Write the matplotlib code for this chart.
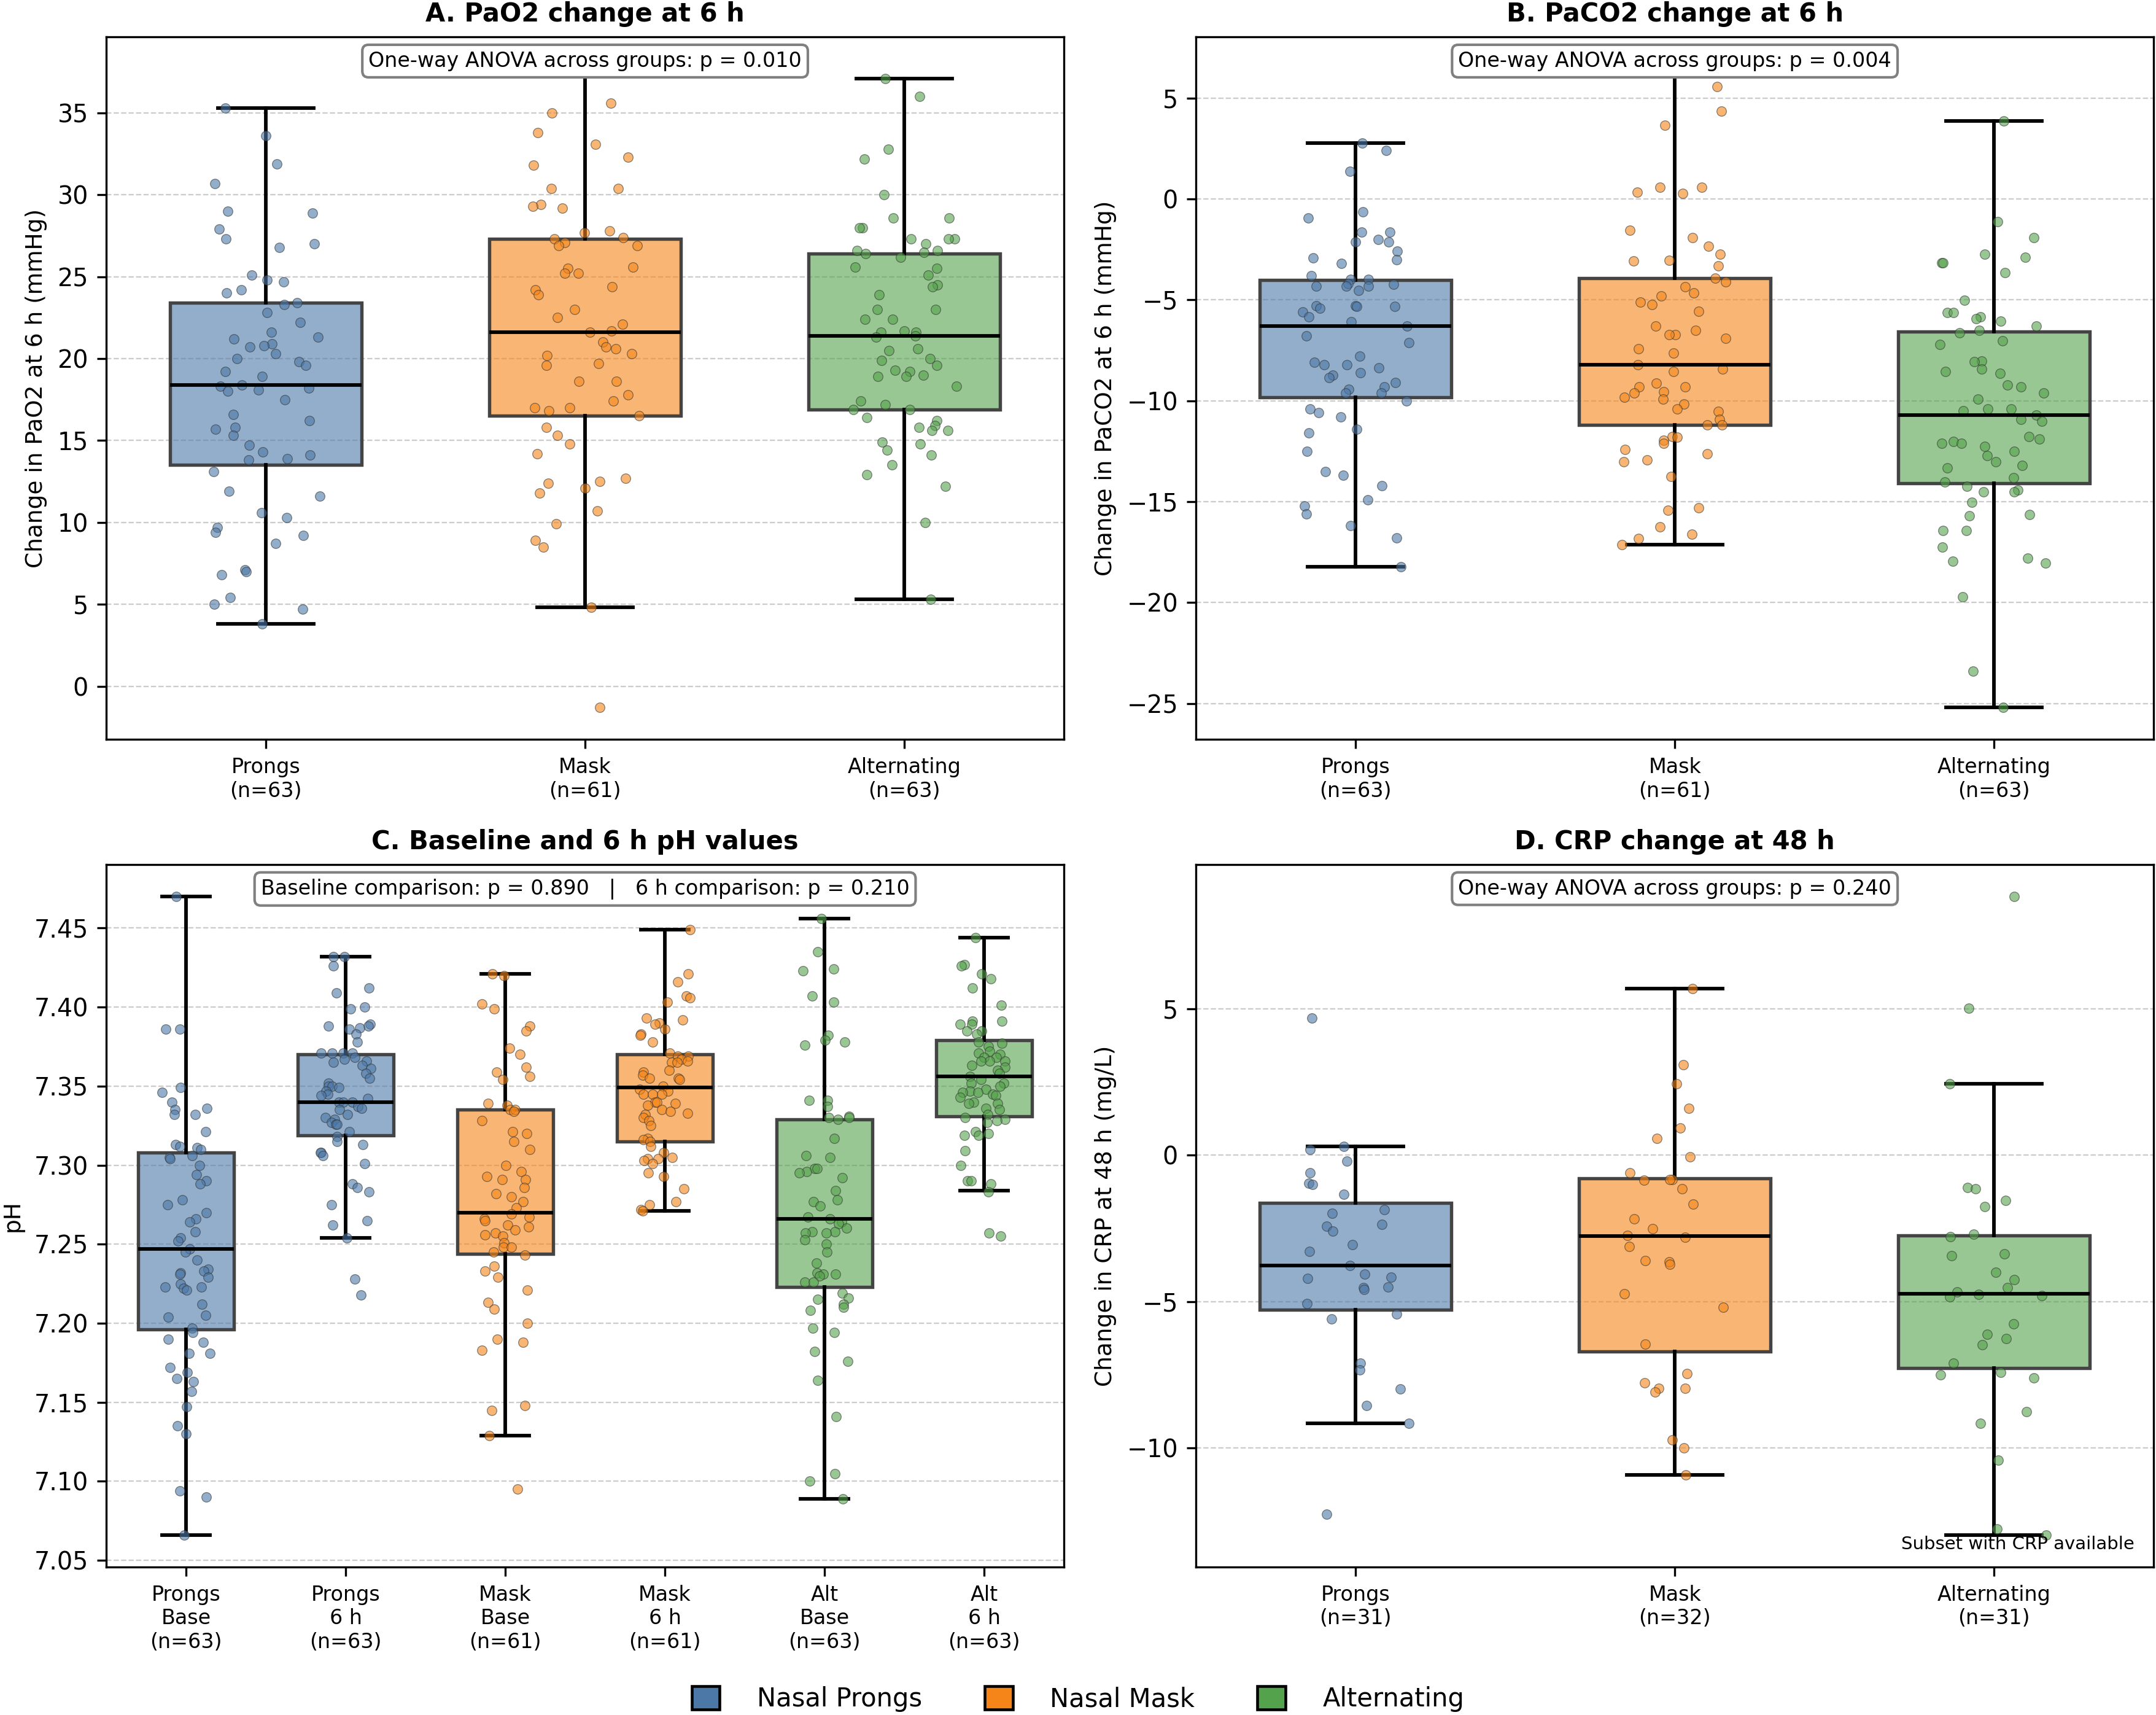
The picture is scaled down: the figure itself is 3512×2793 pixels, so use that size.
import matplotlib
matplotlib.use("Agg")
import matplotlib.pyplot as plt
import numpy as np
from matplotlib.colors import to_rgba
from matplotlib.patches import Patch

# colours per treatment group
c_prongs, c_mask, c_alt = "#4C78A8", "#F58518", "#54A24B"

# ---- A. PaO2 change at 6 h (mmHg)
pao2_prongs = [35.3, 33.6, 31.9, 30.7, 29.0, 28.9, 27.9, 27.3, 27.0, 26.8,
               25.1, 24.8, 24.7, 24.2, 24.0, 23.4, 23.3, 22.8, 22.2, 21.6,
               21.3, 21.2, 20.9, 20.8, 20.7, 20.3, 20.0, 19.8, 19.6, 19.2,
               18.9, 18.4, 18.3, 18.2, 18.1, 18.0, 17.5, 16.6, 16.2, 15.8,
               15.7, 15.3, 14.7, 14.3, 14.1, 13.9, 13.8, 13.1, 11.9, 11.6,
               10.6, 10.3, 9.7, 9.4, 9.2, 8.7, 7.1, 7.0, 6.8, 5.4,
               5.0, 4.7, 3.8]
pao2_mask = [37.7, 35.6, 35.0, 33.8, 33.1, 32.3, 31.8, 30.4, 30.4, 29.4,
             29.3, 29.2, 27.8, 27.7, 27.4, 27.3, 27.1, 26.9, 26.9, 25.6,
             25.5, 25.2, 25.2, 24.4, 24.2, 23.9, 23.0, 22.5, 22.1, 21.7,
             21.6, 21.0, 20.7, 20.6, 20.3, 20.2, 19.7, 19.6, 18.6, 18.6,
             17.8, 17.4, 17.0, 17.0, 16.8, 16.5, 15.8, 15.3, 14.8, 14.2,
             12.7, 12.5, 12.4, 12.1, 11.8, 10.7, 9.9, 8.9, 8.5, 4.8,
             -1.3]
pao2_alt = [37.1, 36.0, 32.8, 32.2, 30.0, 28.6, 28.6, 28.0, 28.0, 27.3,
            27.3, 27.3, 27.0, 26.6, 26.6, 26.5, 26.4, 26.2, 25.6, 25.5,
            25.1, 24.5, 24.4, 23.9, 23.0, 23.0, 22.4, 22.4, 21.7, 21.6,
            21.6, 21.4, 21.3, 20.6, 20.5, 20.0, 19.9, 19.6, 19.3, 19.2,
            19.0, 18.9, 18.9, 18.3, 17.4, 17.2, 16.9, 16.9, 16.4, 16.2,
            15.9, 15.8, 15.6, 15.6, 14.9, 14.8, 14.4, 14.1, 13.5, 12.9,
            12.2, 10.0, 5.3]
# whislo, q1, median, q3, whishi
pao2_stats = [(3.8, 13.5, 18.4, 23.4, 35.3),
              (4.8, 16.5, 21.6, 27.3, 37.7),
              (5.3, 16.9, 21.4, 26.4, 37.1)]

# ---- B. PaCO2 change at 6 h (mmHg)
paco2_prongs = [2.78, 2.4, 1.36, -0.63, -0.93, -1.64, -1.64, -2.02, -2.12, -2.12,
                -2.6, -2.93, -3.0, -3.2, -3.81, -4.0, -4.0, -4.19, -4.24, -4.32,
                -4.32, -4.32, -4.52, -5.3, -5.3, -5.33, -5.33, -5.43, -5.6, -5.83,
                -6.09, -6.31, -6.79, -7.12, -7.8, -8.1, -8.2, -8.2, -8.36, -8.6,
                -8.74, -8.84, -9.1, -9.3, -9.44, -9.6, -9.6, -10.0, -10.4, -10.6,
                -10.8, -11.4, -11.6, -12.5, -13.5, -13.7, -14.2, -14.9, -15.2, -15.6,
                -16.2, -16.8, -18.23]
paco2_mask = [6.45, 5.58, 4.34, 3.66, 0.58, 0.58, 0.35, 0.28, -1.54, -1.92,
              -2.35, -2.73, -3.03, -3.06, -3.33, -3.91, -4.12, -4.34, -4.65, -4.82,
              -5.1, -5.23, -5.56, -6.31, -6.52, -6.72, -6.72, -6.92, -7.42, -7.63,
              -8.21, -8.43, -8.54, -9.12, -9.32, -9.32, -9.55, -9.62, -9.82, -9.92,
              -10.15, -10.4, -10.53, -10.93, -11.21, -11.21, -11.77, -11.82, -11.97, -12.12,
              -12.4, -12.63, -12.93, -13.03, -13.74, -15.3, -15.43, -16.24, -16.62, -16.82,
              -17.12]
paco2_alt = [3.86, -1.14, -1.92, -2.73, -2.9, -3.16, -3.16, -3.64, -5.03, -5.63,
             -5.63, -5.83, -5.93, -6.04, -6.31, -6.52, -6.64, -7.02, -7.22, -8.03,
             -8.06, -8.43, -8.54, -8.64, -9.22, -9.32, -9.62, -9.92, -10.4, -10.4,
             -10.5, -10.71, -10.91, -11.01, -11.79, -11.89, -12.02, -12.1, -12.1, -12.25,
             -12.5, -12.73, -13.03, -13.21, -13.33, -13.81, -14.02, -14.24, -14.42, -14.52,
             -14.52, -15.03, -15.63, -15.71, -16.44, -16.44, -17.25, -17.8, -17.95, -18.03,
             -19.72, -23.41, -25.2]
paco2_stats = [(-18.23, -9.82, -6.31, -4.02, 2.78),
               (-17.12, -11.21, -8.21, -3.91, 6.45),
               (-25.2, -14.09, -10.71, -6.57, 3.86)]

# ---- C. pH at baseline and 6 h
ph_prongs_base = [7.470, 7.386, 7.386, 7.349, 7.346, 7.340, 7.336, 7.335, 7.332, 7.332,
                  7.321, 7.313, 7.312, 7.311, 7.310, 7.306, 7.305, 7.304, 7.300, 7.294,
                  7.290, 7.288, 7.278, 7.275, 7.270, 7.266, 7.264, 7.258, 7.254, 7.252,
                  7.247, 7.245, 7.240, 7.234, 7.233, 7.232, 7.231, 7.229, 7.225, 7.223,
                  7.223, 7.222, 7.221, 7.212, 7.205, 7.204, 7.197, 7.194, 7.190, 7.188,
                  7.181, 7.181, 7.172, 7.169, 7.165, 7.163, 7.157, 7.147, 7.135, 7.130,
                  7.094, 7.090, 7.066]
ph_prongs_6h = [7.432, 7.432, 7.426, 7.412, 7.409, 7.400, 7.399, 7.389, 7.388, 7.388,
                7.387, 7.386, 7.383, 7.378, 7.371, 7.371, 7.371, 7.371, 7.368, 7.367,
                7.366, 7.365, 7.363, 7.361, 7.358, 7.355, 7.352, 7.350, 7.350, 7.349,
                7.347, 7.345, 7.344, 7.342, 7.340, 7.340, 7.340, 7.337, 7.336, 7.335,
                7.332, 7.330, 7.329, 7.327, 7.326, 7.326, 7.321, 7.318, 7.315, 7.313,
                7.308, 7.308, 7.306, 7.301, 7.288, 7.286, 7.283, 7.275, 7.265, 7.262,
                7.254, 7.228, 7.218]
ph_mask_base = [7.421, 7.420, 7.402, 7.399, 7.388, 7.385, 7.374, 7.370, 7.362, 7.359,
                7.356, 7.354, 7.339, 7.338, 7.335, 7.335, 7.334, 7.328, 7.321, 7.320,
                7.315, 7.310, 7.300, 7.296, 7.293, 7.291, 7.291, 7.286, 7.282, 7.280,
                7.277, 7.273, 7.269, 7.267, 7.266, 7.265, 7.262, 7.261, 7.259, 7.257,
                7.256, 7.255, 7.251, 7.248, 7.248, 7.245, 7.243, 7.236, 7.233, 7.229,
                7.221, 7.213, 7.209, 7.200, 7.190, 7.188, 7.183, 7.148, 7.145, 7.129,
                7.095]
ph_mask_6h = [7.449, 7.421, 7.416, 7.407, 7.406, 7.403, 7.393, 7.392, 7.390, 7.389,
              7.386, 7.383, 7.382, 7.378, 7.371, 7.369, 7.369, 7.367, 7.366, 7.365,
              7.365, 7.360, 7.359, 7.357, 7.355, 7.355, 7.354, 7.350, 7.348, 7.347,
              7.345, 7.345, 7.345, 7.340, 7.340, 7.339, 7.338, 7.335, 7.334, 7.333,
              7.332, 7.330, 7.328, 7.325, 7.317, 7.316, 7.315, 7.312, 7.308, 7.305,
              7.304, 7.304, 7.303, 7.301, 7.295, 7.293, 7.285, 7.277, 7.275, 7.272,
              7.271]
ph_alt_base = [7.456, 7.435, 7.424, 7.423, 7.407, 7.403, 7.382, 7.379, 7.378, 7.376,
               7.341, 7.341, 7.337, 7.331, 7.330, 7.330, 7.329, 7.317, 7.306, 7.305,
               7.298, 7.298, 7.296, 7.295, 7.292, 7.284, 7.278, 7.277, 7.274, 7.267,
               7.266, 7.264, 7.263, 7.260, 7.258, 7.258, 7.257, 7.257, 7.253, 7.250,
               7.245, 7.238, 7.232, 7.231, 7.231, 7.230, 7.226, 7.226, 7.219, 7.216,
               7.215, 7.212, 7.210, 7.208, 7.197, 7.194, 7.182, 7.176, 7.164, 7.141,
               7.105, 7.100, 7.089]
ph_alt_6h = [7.444, 7.427, 7.426, 7.421, 7.418, 7.412, 7.401, 7.391, 7.391, 7.389,
             7.389, 7.385, 7.385, 7.383, 7.378, 7.377, 7.375, 7.372, 7.371, 7.370,
             7.368, 7.368, 7.366, 7.366, 7.366, 7.363, 7.362, 7.360, 7.358, 7.356,
             7.354, 7.352, 7.352, 7.350, 7.348, 7.347, 7.346, 7.346, 7.345, 7.344,
             7.343, 7.340, 7.339, 7.339, 7.336, 7.335, 7.332, 7.330, 7.329, 7.328,
             7.327, 7.321, 7.320, 7.319, 7.319, 7.309, 7.300, 7.290, 7.290, 7.288,
             7.283, 7.257, 7.255]
ph_stats = [(7.066, 7.196, 7.247, 7.308, 7.470),
            (7.254, 7.319, 7.340, 7.370, 7.432),
            (7.129, 7.244, 7.270, 7.335, 7.421),
            (7.271, 7.315, 7.349, 7.370, 7.449),
            (7.089, 7.223, 7.266, 7.329, 7.456),
            (7.284, 7.331, 7.356, 7.379, 7.444)]

# ---- D. CRP change at 48 h (mg/L)
crp_prongs = [4.69, 0.31, 0.19, -0.21, -0.60, -0.95, -1.0, -1.33, -1.85, -1.99,
              -2.37, -2.43, -2.59, -3.05, -3.28, -3.76, -4.05, -4.17, -4.21, -4.5,
              -4.52, -4.58, -5.06, -5.42, -5.58, -7.1, -7.32, -7.99, -8.55, -9.15,
              -12.26]
crp_mask = [5.69, 3.09, 2.45, 1.60, 0.93, 0.58, -0.06, -0.60, -0.83, -0.83,
            -0.85, -1.14, -1.66, -2.18, -2.51, -2.74, -2.80, -3.11, -3.59, -3.63,
            -3.73, -4.73, -5.19, -6.45, -7.45, -7.78, -7.95, -7.95, -8.09, -9.73,
            -10.0, -10.91]
crp_alt = [8.84, 5.02, 2.45, -1.10, -1.14, -1.54, -1.76, -2.70, -2.78, -3.36,
           -3.44, -4.0, -4.25, -4.52, -4.67, -4.75, -4.79, -4.83, -5.75, -6.12,
           -6.27, -6.47, -7.10, -7.41, -7.49, -7.61, -8.75, -9.15, -10.42, -12.76,
           -12.97]
crp_stats = [(-9.15, -5.27, -3.76, -1.62, 0.31),
             (-10.91, -6.70, -2.76, -0.79, 5.69),
             (-12.97, -7.26, -4.73, -2.74, 2.45)]

group_names = ["Prongs", "Mask", "Alternating"]
ph_names = ["Prongs\nBase", "Prongs\n6 h", "Mask\nBase", "Mask\n6 h", "Alt\nBase", "Alt\n6 h"]

rng = np.random.default_rng(11)


def draw_panel(ax, groups, stats, names, colors, title, ylabel, note, jitter=0.17):
    pos = np.arange(len(groups))
    bstats = [dict(whislo=s[0], q1=s[1], med=s[2], q3=s[3], whishi=s[4], fliers=[])
              for s in stats]
    bp = ax.bxp(bstats, positions=pos, widths=0.6, patch_artist=True, showfliers=False,
                whiskerprops=dict(color="black", lw=1.4),
                capprops=dict(color="black", lw=1.4),
                medianprops=dict(color="black", lw=1.4, zorder=4),
                boxprops=dict(lw=1.3), manage_ticks=False)
    for box, c in zip(bp["boxes"], colors):
        box.set_facecolor(to_rgba(c, 0.6))
        box.set_edgecolor("#444444")

    for p, vals, c in zip(pos, groups, colors):
        xs = p + rng.uniform(-jitter, jitter, len(vals))
        ax.scatter(xs, vals, s=14, color=c, alpha=0.6, edgecolor="#333333",
                   linewidth=0.3, zorder=3)

    ax.set_xticks(pos)
    ax.set_xticklabels([f"{n}\n(n={len(v)})" for n, v in zip(names, groups)], fontsize=8)
    ax.set_xlim(-0.5, len(groups) - 0.5)
    ax.tick_params(axis="y", labelsize=9.5)
    ax.set_ylabel(ylabel, fontsize=9)
    ax.set_title(title, fontsize=10, fontweight="bold")
    ax.grid(axis="y", linestyle="--", color="#cccccc", lw=0.55)
    ax.set_axisbelow(True)
    ax.text(0.5, 0.98, note, transform=ax.transAxes, ha="center", va="top", fontsize=8,
            bbox=dict(boxstyle="round,pad=0.3", facecolor="white", edgecolor="gray"))


fig, axs = plt.subplots(2, 2, figsize=(3512 / 300, 2793 / 300), dpi=300)
fig.subplots_adjust(left=0.0493, right=0.9989, bottom=0.0863, top=0.9785,
                    wspace=0.138, hspace=0.178)

cols3 = [c_prongs, c_mask, c_alt]
draw_panel(axs[0, 0], [pao2_prongs, pao2_mask, pao2_alt], pao2_stats, group_names, cols3,
           "A. PaO2 change at 6 h", "Change in PaO2 at 6 h (mmHg)",
           "One-way ANOVA across groups: p = 0.010")
draw_panel(axs[0, 1], [paco2_prongs, paco2_mask, paco2_alt], paco2_stats, group_names, cols3,
           "B. PaCO2 change at 6 h", "Change in PaCO2 at 6 h (mmHg)",
           "One-way ANOVA across groups: p = 0.004")
draw_panel(axs[1, 0],
           [ph_prongs_base, ph_prongs_6h, ph_mask_base, ph_mask_6h, ph_alt_base, ph_alt_6h],
           ph_stats, ph_names,
           [c_prongs, c_prongs, c_mask, c_mask, c_alt, c_alt],
           "C. Baseline and 6 h pH values", "pH",
           "Baseline comparison: p = 0.890   |   6 h comparison: p = 0.210", jitter=0.16)
draw_panel(axs[1, 1], [crp_prongs, crp_mask, crp_alt], crp_stats, group_names, cols3,
           "D. CRP change at 48 h", "Change in CRP at 48 h (mg/L)",
           "One-way ANOVA across groups: p = 0.240")
axs[1, 1].text(0.98, 0.02, "Subset with CRP available", transform=axs[1, 1].transAxes,
               ha="right", va="bottom", fontsize=7)

handles = [Patch(facecolor=c, edgecolor="black", lw=1.1) for c in cols3]
fig.legend(handles, ["Nasal Prongs", "Nasal Mask", "Alternating"], loc="center",
           bbox_to_anchor=(0.5, 0.0093), ncol=3, frameon=False, fontsize=10,
           handlelength=1.1, handleheight=1.05, handletextpad=1.45, columnspacing=2.45)

fig.savefig("out.png", dpi=300)
